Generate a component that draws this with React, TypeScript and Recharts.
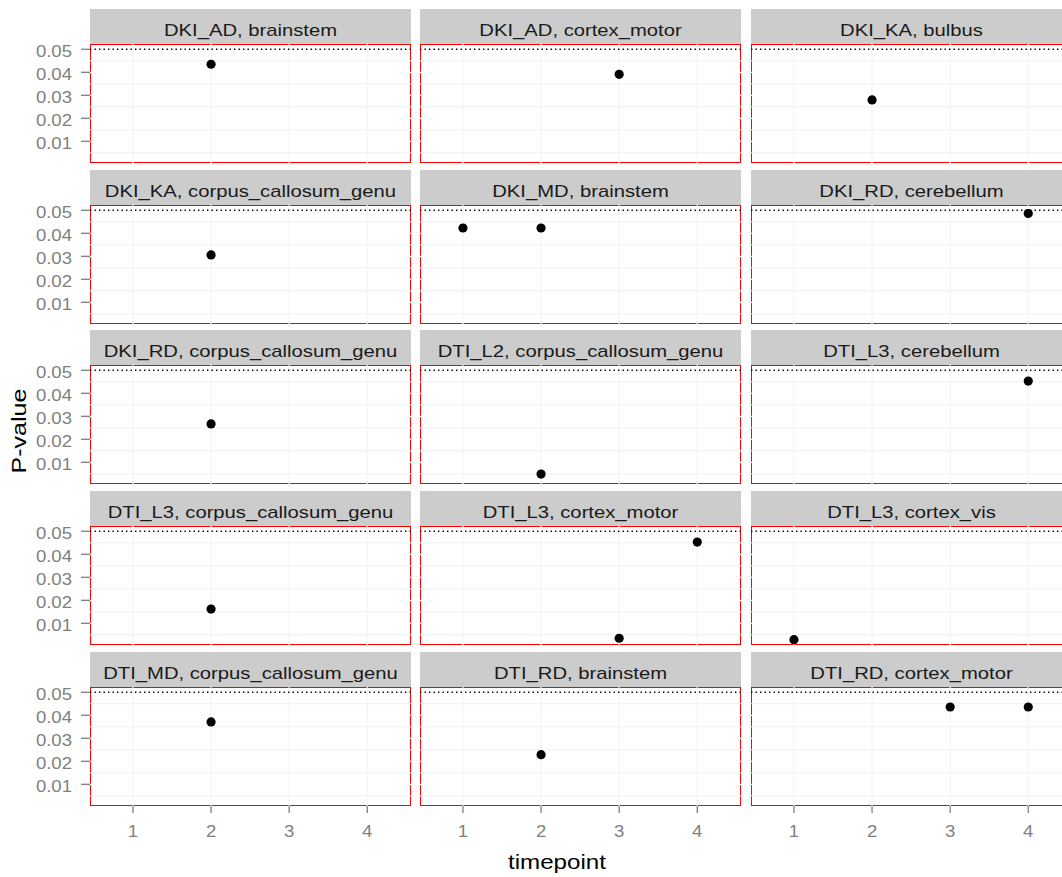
import React from "react";
import { ScatterChart, Scatter, XAxis, YAxis, ReferenceLine } from "recharts";

const facetLabels = [
  "DKI_AD, brainstem",
  "DKI_AD, cortex_motor",
  "DKI_KA, bulbus",
  "DKI_KA, corpus_callosum_genu",
  "DKI_MD, brainstem",
  "DKI_RD, cerebellum",
  "DKI_RD, corpus_callosum_genu",
  "DTI_L2, corpus_callosum_genu",
  "DTI_L3, cerebellum",
  "DTI_L3, corpus_callosum_genu",
  "DTI_L3, cortex_motor",
  "DTI_L3, cortex_vis",
  "DTI_MD, corpus_callosum_genu",
  "DTI_RD, brainstem",
  "DTI_RD, cortex_motor",
];

const timepoints = [
  [2], [3], [2],
  [2], [1, 2], [4],
  [2], [2], [4],
  [2], [3, 4], [1],
  [2], [2], [3, 4],
];

const pValues = [
  [0.0435], [0.0391], [0.028],
  [0.0306], [0.0423, 0.0423], [0.0486],
  [0.0267], [0.0049], [0.0453],
  [0.0162], [0.0035, 0.0453], [0.0029],
  [0.0371], [0.0229], [0.0436, 0.0436],
];

const xTicks = [1, 2, 3, 4];
const yTicks = [0.01, 0.02, 0.03, 0.04, 0.05];
const yMinor = [0.005, 0.015, 0.025, 0.035, 0.045];
const threshold = 0.05;

const FONT = "'Liberation Sans', Arial, Helvetica, sans-serif";
const W = 321;
const H = 119;
const colLeft = [90, 420, 751];
const rowTop = [44, 205, 365, 526, 687];
const STRIP_H = 35;
const Y_AXIS_W = 90;
const X_AXIS_H = 50;
const PAD_TOP = 12;

const YTick = (props: any) => {
  const { x, y, payload } = props;
  return (
    <text
      transform={`translate(${x},${y + 2}) scale(1.16,1)`}
      textAnchor="end"
      dy="0.36em"
      fontSize={16}
      fill="#7f7f7f"
      fontFamily={FONT}
    >
      {Number(payload.value).toFixed(2)}
    </text>
  );
};

const XTick = (props: any) => {
  const { x, y, payload } = props;
  return (
    <text
      transform={`translate(${x},${y + 24}) scale(1.16,1)`}
      textAnchor="middle"
      fontSize={16}
      fill="#7f7f7f"
      fontFamily={FONT}
    >
      {String(payload.value)}
    </text>
  );
};

const Dot = (p: any) => <circle cx={p.cx} cy={p.cy} r={4.6} fill="#000" />;

function Facet({ i }: { i: number }) {
  const r = Math.floor(i / 3);
  const c = i % 3;
  const left = c === 0 ? colLeft[0] - Y_AXIS_W : colLeft[c];
  const width = W + (c === 0 ? Y_AXIS_W : 0);
  const height = H + PAD_TOP + (r === 4 ? X_AXIS_H : 0);
  const data = timepoints[i].map((t, j) => ({ x: t, y: pValues[i][j] }));
  return (
    <>
      <div
        style={{
          position: "absolute",
          left: colLeft[c],
          top: rowTop[r] - STRIP_H,
          width: W,
          height: STRIP_H,
          background: "#cccccc",
          overflow: "hidden",
        }}
      >
        <span
          style={{
            position: "absolute",
            left: 0,
            right: 0,
            top: 11.8,
            lineHeight: "20px",
            textAlign: "center",
            fontSize: 17,
            color: "#1a1a1a",
            fontFamily: FONT,
            whiteSpace: "nowrap",
            transform: "scaleX(1.19)",
          }}
        >
          {facetLabels[i]}
        </span>
      </div>
      <div
        style={{
          position: "absolute",
          left: colLeft[c],
          top: rowTop[r],
          width: W,
          height: H,
          boxSizing: "border-box",
          border: "1px solid #ff0000",
          background: "#ffffff",
        }}
      />
      <div style={{ position: "absolute", left, top: rowTop[r] - PAD_TOP }}>
        <ScatterChart
          width={width}
          height={height}
          margin={{ top: PAD_TOP, right: 0, bottom: 0, left: 0 }}
        >
          <XAxis
            type="number"
            dataKey="x"
            domain={[0.45, 4.56]}
            ticks={xTicks}
            allowDataOverflow
            hide={r !== 4}
            height={X_AXIS_H}
            axisLine={false}
            tickSize={7}
            tickMargin={0}
            tickLine={{ stroke: "#7f7f7f", strokeWidth: 1.3 }}
            tick={<XTick />}
            interval={0}
          />
          <YAxis
            type="number"
            dataKey="y"
            domain={[0.00057, 0.0523]}
            ticks={yTicks}
            allowDataOverflow
            hide={c !== 0}
            width={Y_AXIS_W}
            axisLine={false}
            tickSize={9}
            tickMargin={9}
            tickLine={{ stroke: "#7f7f7f", strokeWidth: 1.3 }}
            tick={<YTick />}
            interval={0}
          />
          {yMinor.map((v) => (
            <ReferenceLine key={`ym${v}`} y={v} stroke="#efefef" strokeWidth={1.1} />
          ))}
          {yTicks.map((v) => (
            <ReferenceLine key={`yM${v}`} y={v} stroke="#ffffff" strokeWidth={1.3} />
          ))}
          {xTicks.map((v) => (
            <ReferenceLine key={`xM${v}`} x={v} stroke="#f5f5f5" strokeWidth={1.3} />
          ))}
          <ReferenceLine y={threshold} stroke="#000000" strokeWidth={1.4} strokeDasharray="1.4 3.1" />
          <Scatter data={data} dataKey="y" fill="#000" shape={<Dot />} isAnimationActive={false} />
        </ScatterChart>
      </div>
    </>
  );
}

export default function App() {
  return (
    <div
      style={{
        position: "absolute",
        left: 0,
        top: 0,
        width: 1062,
        height: 877,
        overflow: "hidden",
        background: "#ffffff",
      }}
    >
      {facetLabels.map((_, i) => (
        <Facet key={i} i={i} />
      ))}
      <div
        style={{
          position: "absolute",
          left: 19.4,
          top: 430.5,
          transform: "translate(-50%, -50%) rotate(-90deg) scaleX(1.22)",
          fontSize: 20.5,
          lineHeight: "24px",
          fontFamily: FONT,
          color: "#000",
          whiteSpace: "nowrap",
        }}
      >
        P-value
      </div>
      <div
        style={{
          position: "absolute",
          left: 557,
          top: 862,
          transform: "translate(-50%, -50%) scaleX(1.15)",
          fontSize: 21,
          lineHeight: "24px",
          fontFamily: FONT,
          color: "#000",
          whiteSpace: "nowrap",
        }}
      >
        timepoint
      </div>
    </div>
  );
}
